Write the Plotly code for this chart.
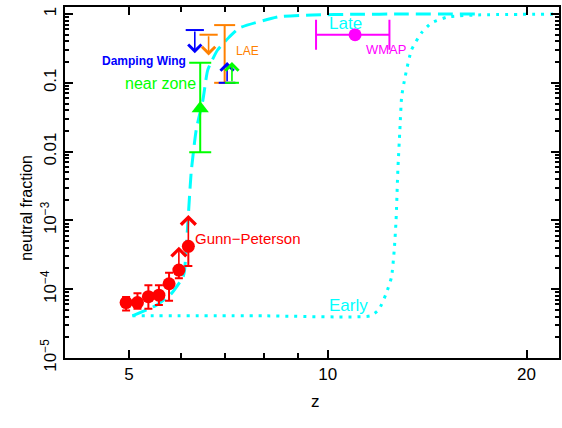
import numpy as np
import plotly.graph_objects as go

# ---------------- data ----------------
# Gunn-Peterson trough measurements
gp_z = [4.95, 5.15, 5.35, 5.55, 5.75, 5.95, 6.15]
gp_x = [6.4e-5, 6.4e-5, 7.8e-5, 8.2e-5, 1.2e-4, 1.9e-4, 4.2e-4]
gp_hi = [7.7e-5, 8.7e-5, 1.14e-4, 1.14e-4, 1.74e-4, None, None]
gp_lo = [4.9e-5, 5.2e-5, 5.2e-5, 5.9e-5, 6.8e-5, 1.44e-4, 2.17e-4]
gp_arrow_top = [None, None, None, None, None, 4.15e-4, 1.2e-3]

# quasar near zone
nz_z = [6.41]
nz_x = [0.0425]
nz_hi = [0.196]
nz_lo = [0.0098]

# damping wing upper limit
dw_z = [6.29]
dw_lim = [0.585]
dw_tip = [0.27]

# Lyman-alpha emitters: upper limit and allowed range
lae_ul_z = [6.6]
lae_ul_lim = [0.5]
lae_ul_tip = [0.25]
lae_rng_z = [6.98]
lae_rng_lo = [0.1]
lae_rng_hi = [0.69]

# lower limits near z~7
ll_blue_z = [7.04]
ll_green_z = [7.16]
ll_lim = [0.1]
ll_tip = [0.2]

# WMAP reionization redshift
wmap_z = [11.0]
wmap_x = [0.5]
wmap_zlo = [9.6]
wmap_zhi = [12.4]

# model histories
late_z = [5.06, 5.51, 5.80, 6.04, 6.07, 6.15, 6.21, 6.32, 6.47, 6.58, 6.81,
          7.10, 7.35, 8.44, 9.47, 11.0, 13.0, 16.9]
late_x = [4.1e-5, 5.9e-5, 8.7e-5, 1.52e-4, 1.9e-4, 1.2e-3, 4.9e-3, 0.0206,
          0.056, 0.153, 0.30, 0.468, 0.627, 0.914, 0.97, 0.99, 1.0, 1.0]
early_z = [5.06, 8.0, 11.6, 11.94, 12.27, 12.49, 12.61, 12.69, 12.77, 12.86,
           12.94, 13.10, 13.39, 13.86, 14.35, 15.22, 16.9, 23.0]
early_x = [4.1e-5, 4.1e-5, 4.1e-5, 5.0e-5, 8.8e-5, 1.5e-4, 3.7e-4, 1.0e-3,
           5.4e-3, 0.0206, 0.063, 0.123, 0.30, 0.53, 0.74, 0.91, 0.97, 1.0]

# axis ticks
x_ticks = [5, 10, 20]
x_ticktext = ["5", "10", "20"]
x_minor = [6, 7, 8, 9]
y_ticks = [1e-5, 1e-4, 1e-3, 1e-2, 1e-1, 1]
y_ticktext = ["10<sup>\u22125</sup>", "10<sup>\u22124</sup>", "10<sup>\u22123</sup>",
              "0.01", "0.1", "1"]
y_minor = [m * 10.0 ** e for e in range(-5, 0) for m in range(2, 10)]

RED, GREEN, BLUE = "#ff0000", "#00ff00", "#0000ff"
ORANGE, MAGENTA, CYAN = "#ff8000", "#ff00ff", "#00ffff"
FONT = "Liberation Sans, Arial, sans-serif"

fig = go.Figure()

# model curves
fig.add_trace(go.Scatter(x=late_z, y=late_x, mode="lines",
                         line=dict(color=CYAN, width=3, dash="15px,7px", shape="spline", smoothing=0.5)))
fig.add_trace(go.Scatter(x=early_z, y=early_x, mode="lines",
                         line=dict(color=CYAN, width=3, dash="3px,6px", shape="spline", smoothing=0.5)))

# Gunn-Peterson points
plus = [(h - v) if h is not None else 0 for h, v in zip(gp_hi, gp_x)]
minus = [v - l for v, l in zip(gp_x, gp_lo)]
fig.add_trace(go.Scatter(x=gp_z, y=gp_x, mode="markers",
                         marker=dict(color=RED, size=13, symbol="circle"),
                         error_y=dict(type="data", array=plus, arrayminus=minus, symmetric=False,
                                      color=RED, thickness=2, width=4)))

# near zone
fig.add_trace(go.Scatter(x=nz_z, y=nz_x, mode="markers",
                         marker=dict(color=GREEN, size=15, symbol="triangle-up"),
                         error_y=dict(type="data", array=[h - v for h, v in zip(nz_hi, nz_x)],
                                      arrayminus=[v - l for v, l in zip(nz_x, nz_lo)], symmetric=False,
                                      color=GREEN, thickness=2, width=11)))

# WMAP
fig.add_trace(go.Scatter(x=wmap_z, y=wmap_x, mode="markers",
                         marker=dict(color=MAGENTA, size=13),
                         error_x=dict(type="data", array=[h - z for h, z in zip(wmap_zhi, wmap_z)],
                                      arrayminus=[z - l for z, l in zip(wmap_z, wmap_zlo)], symmetric=False,
                                      color=MAGENTA, thickness=2, width=15)))

# LAE allowed range
fig.add_trace(go.Scatter(x=lae_rng_z * 2, y=lae_rng_lo + lae_rng_hi, mode="lines+markers",
                         line=dict(color=ORANGE, width=2),
                         marker=dict(symbol="line-ew", size=15, line=dict(color=ORANGE, width=2))))


def cap(z, v, color, size):
    fig.add_trace(go.Scatter(x=z, y=v, mode="markers",
                             marker=dict(symbol="line-ew", size=size, line=dict(color=color, width=2))))


def arrow(z, v0, v1, color, head_size=1.6):
    fig.add_annotation(x=np.log10(z), y=np.log10(v1), ax=np.log10(z), ay=np.log10(v0),
                       xref="x", yref="y", axref="x", ayref="y", text="", showarrow=True,
                       arrowhead=4, arrowsize=head_size, arrowwidth=1.6, arrowcolor=color)


# limits
cap(dw_z, dw_lim, BLUE, 13)
arrow(dw_z[0], dw_lim[0], dw_tip[0], BLUE)
cap(lae_ul_z, lae_ul_lim, ORANGE, 13)
arrow(lae_ul_z[0], lae_ul_lim[0], lae_ul_tip[0], ORANGE)
cap(ll_blue_z, ll_lim, BLUE, 12)
arrow(ll_blue_z[0], ll_lim[0], ll_tip[0], BLUE)
cap(ll_green_z, ll_lim, GREEN, 10)
arrow(ll_green_z[0], ll_lim[0], ll_tip[0], GREEN)
for z, v, t in zip(gp_z, gp_x, gp_arrow_top):
    if t is not None:
        arrow(z, v, t, RED, 1.8)


def label(text, z, v, color, size, anchor="center", bold=False):
    fig.add_annotation(x=np.log10(z), y=np.log10(v), xref="x", yref="y", text=text,
                       showarrow=False, xanchor=anchor,
                       font=dict(family=FONT, size=size, color=color,
                                 weight="bold" if bold else "normal"))


label("Damping Wing", 6.14, 10 ** -0.683, BLUE, 12, "right", bold=True)
label("near zone", 6.37, 10 ** -1.003, GREEN, 16, "right")
label("LAE", 7.22, 10 ** -0.533, ORANGE, 12, "left")
label("Late", 10.65, 10 ** -0.145, CYAN, 17)
label("WMAP", 12.27, 10 ** -0.509, MAGENTA, 13)
label("Early", 10.76, 10 ** -4.244, CYAN, 17)
label("Gunn\u2212Peterson", 6.26, 10 ** -3.256, RED, 15, "left")

# axis titles
fig.add_annotation(x=-0.1008, y=0.427, xref="paper", yref="paper", text="neutral fraction",
                   textangle=-90, showarrow=False, font=dict(family=FONT, size=16, color="black"))
fig.add_annotation(x=0.508, y=-0.157, xref="paper", yref="paper", text="z",
                   showarrow=False, font=dict(family=FONT, size=17, color="black"))

axis_common = dict(showline=True, linecolor="black", linewidth=2, mirror="ticks",
                   ticks="inside", tickcolor="black", tickwidth=1.5, showgrid=False, zeroline=False,
                   tickfont=dict(family=FONT, size=17, color="black"))

fig.update_xaxes(type="log", range=[np.log10(4.0), np.log10(22.4)],
                 tickvals=x_ticks, ticktext=x_ticktext, ticklen=8,
                 minor=dict(tickvals=x_minor, ticks="inside", ticklen=5, tickcolor="black", tickwidth=1.5),
                 **axis_common)
fig.update_yaxes(type="log", range=[-5, 0.102],
                 tickvals=y_ticks, ticktext=y_ticktext, ticklen=8, tickangle=-90,
                 minor=dict(tickvals=y_minor, ticks="inside", ticklen=4, tickcolor="black", tickwidth=1.5),
                 **axis_common)

fig.update_layout(width=562, height=428, showlegend=False,
                  margin=dict(l=65, r=1, t=7, b=70),
                  plot_bgcolor="white", paper_bgcolor="white")

fig.write_html("out.html")
